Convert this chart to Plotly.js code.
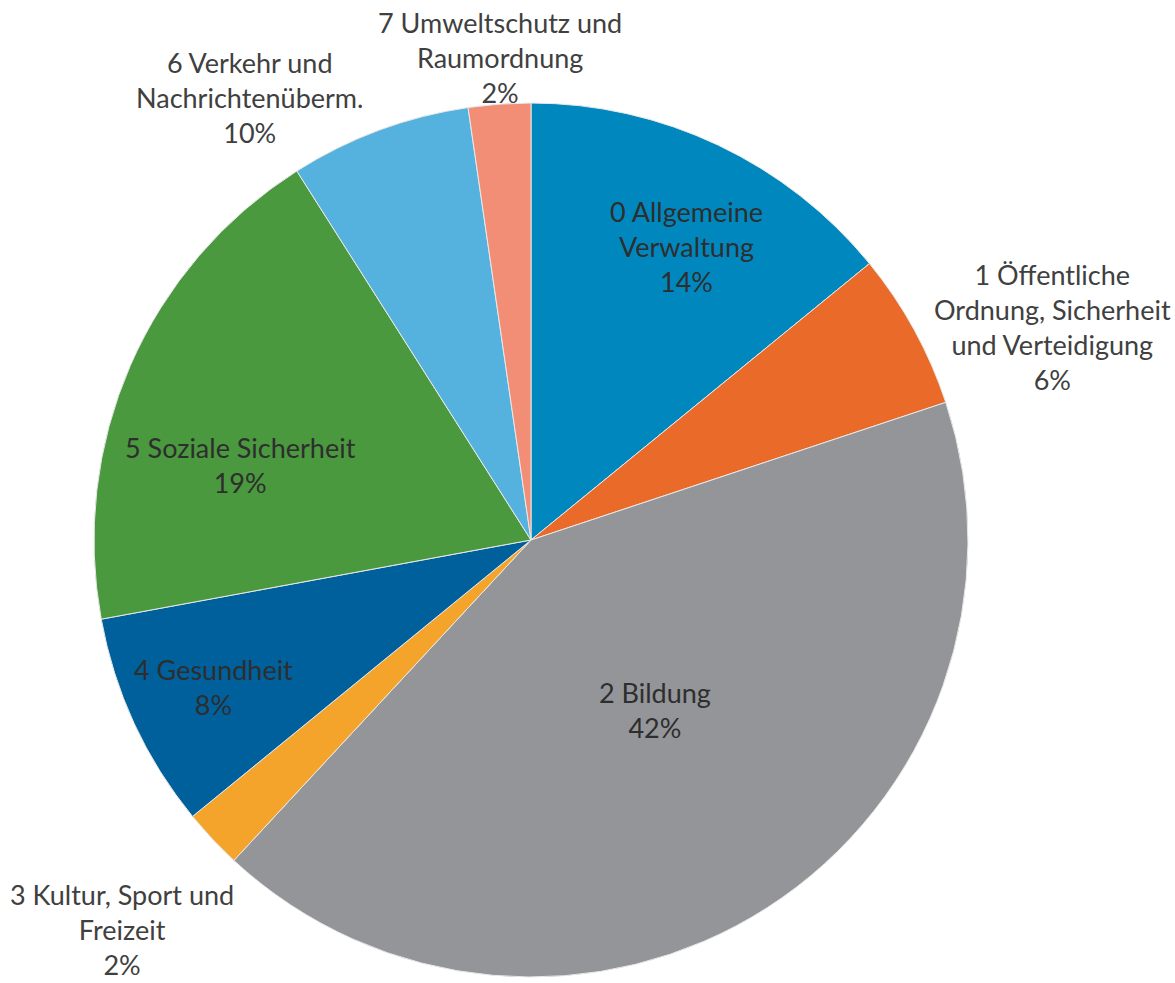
<!DOCTYPE html>
<html>
<head>
<meta charset="utf-8">
<script src="https://cdn.plot.ly/plotly-3.0.1.min.js"></script>
<style>html,body{margin:0;padding:0;background:#fff;}#chart{width:1175px;height:983px;}</style>
</head>
<body>
<div id="chart"></div>
<script>
// Data (slice sizes)
const categories = [
  "0 Allgemeine<br>Verwaltung",
  "1 Öffentliche<br>Ordnung, Sicherheit<br>und Verteidigung",
  "2 Bildung",
  "3 Kultur, Sport und<br>Freizeit",
  "4 Gesundheit",
  "5 Soziale Sicherheit",
  "6 Verkehr und<br>Nachrichtenüberm.",
  "7 Umweltschutz und<br>Raumordnung"
];
const values = [14.1, 5.8, 42.0, 2.2, 8.0, 18.9, 6.7, 2.3];
const percentLabels = ["14%", "6%", "42%", "2%", "8%", "19%", "10%", "2%"];

// Styles and label placement (paper coordinates)
const colors = ["#0088BE", "#EA6A2A", "#939598", "#F4A42B", "#00609C", "#4A993E", "#55B2DF", "#F28D76"];
const labelPos = [
  [686, 246, true], [1052, 327, false], [655, 710, true], [122, 929, false],
  [213, 687, true], [240, 465, true], [249, 98, false], [500, 57, false]
];

const W = 1175, H = 983;
const annotations = categories.map((c, i) => ({
  text: c + "<br>" + percentLabels[i],
  x: labelPos[i][0] / W, y: 1 - labelPos[i][1] / H,
  xref: "paper", yref: "paper", xanchor: "center", yanchor: "middle",
  showarrow: false, align: "center",
  font: {family: "Lato, 'Open Sans', sans-serif", size: 27, color: labelPos[i][2] ? "#2e2e2e" : "#404040"}
}));

const cx = 531, cy = 540, r = 437;
const trace = {
  type: "pie",
  labels: categories,
  values: values,
  sort: false,
  direction: "clockwise",
  rotation: 0,
  textinfo: "none",
  hoverinfo: "label+percent",
  automargin: false,
  marker: {colors: colors, line: {color: "#e8e8e8", width: 1}},
  domain: {x: [(cx - r) / W, (cx + r) / W], y: [(H - cy - r) / H, (H - cy + r) / H]}
};

Plotly.newPlot("chart", [trace], {
  width: W, height: H,
  margin: {l: 0, r: 0, t: 0, b: 0},
  showlegend: false,
  paper_bgcolor: "#ffffff",
  annotations: annotations
}, {displayModeBar: false, staticPlot: true});
</script>
</body>
</html>
